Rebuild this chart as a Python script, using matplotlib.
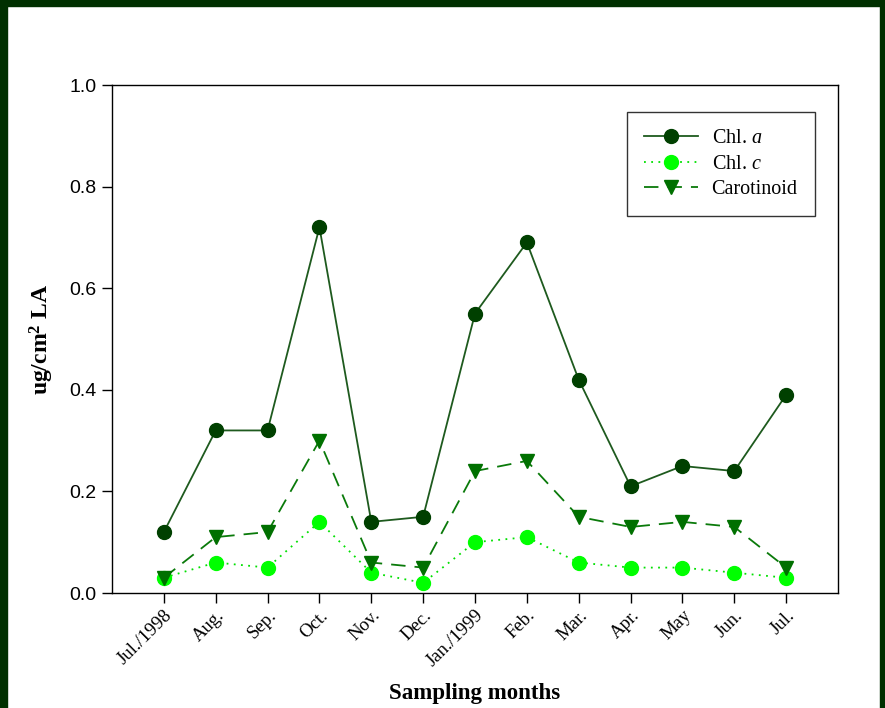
import matplotlib
matplotlib.use("Agg")
import matplotlib.pyplot as plt
from matplotlib.patches import Rectangle

months = ["Jul./1998", "Aug.", "Sep.", "Oct.", "Nov.", "Dec.", "Jan./1999",
          "Feb.", "Mar.", "Apr.", "May", "Jun.", "Jul."]
chl_a = [0.12, 0.32, 0.32, 0.72, 0.14, 0.15, 0.55, 0.69, 0.42, 0.21, 0.25, 0.24, 0.39]
chl_c = [0.03, 0.06, 0.05, 0.14, 0.04, 0.02, 0.10, 0.11, 0.06, 0.05, 0.05, 0.04, 0.03]
carotinoid = [0.03, 0.11, 0.12, 0.30, 0.06, 0.05, 0.24, 0.26, 0.15, 0.13, 0.14, 0.13, 0.05]

serif = "Liberation Serif"
sans = "Liberation Sans"

plt.rcParams["mathtext.fontset"] = "custom"
plt.rcParams["mathtext.rm"] = serif
plt.rcParams["mathtext.it"] = serif + ":italic"
plt.rcParams["mathtext.bf"] = serif + ":bold"

fig = plt.figure(figsize=(8.85, 7.08), dpi=100)
fig.patch.set_facecolor("white")

# dark green frame on left, top and right edges
frame = "#003000"
W, H = 885, 708
for x0, y0, w, h in [(0, 0, 7, H), (0, H - 6, W, 6), (W - 5, 0, 5, H)]:
    fig.patches.append(Rectangle((x0 / W, y0 / H), w / W, h / H,
                                 transform=fig.transFigure, color=frame, zorder=0))

ax = fig.add_axes([112 / W, 1 - 593 / H, (838 - 112) / W, (593 - 85) / H])

x = list(range(len(months)))
ax.plot(x, chl_a, color="#1e5a1e", lw=1.3, ls="-", marker="o", ms=10,
        mfc="#004000", mec="#004000", label="Chl. $\\it{a}$")
ax.plot(x, chl_c, color="#00e000", lw=1.3, ls=(0, (1, 3)), marker="o", ms=10,
        mfc="#00ff00", mec="#00ff00", label="Chl. $\\it{c}$")
ax.plot(x, carotinoid, color="#0a7a0a", lw=1.3, ls=(0, (8, 5)), marker="v", ms=10,
        mfc="#007000", mec="#007000", label="Carotinoid")

ax.set_xlim(-1, 13)
ax.set_ylim(0, 1.0)
ax.set_xticks(x)
ax.set_xticklabels(months, rotation=45, ha="right", rotation_mode="anchor",
                   fontfamily=serif, fontsize=13.5)
ax.set_yticks([0.0, 0.2, 0.4, 0.6, 0.8, 1.0])
ax.set_yticklabels(["0.0", "0.2", "0.4", "0.6", "0.8", "1.0"],
                   fontfamily=sans, fontsize=14)
ax.tick_params(direction="out", length=7, width=1, top=False, right=False)
ax.tick_params(axis="x", pad=3)
ax.tick_params(axis="y", pad=4)
for s in ax.spines.values():
    s.set_linewidth(1)

ax.set_xlabel("Sampling months", fontfamily=serif, fontsize=16.5,
              fontweight="bold", labelpad=9)
ax.set_ylabel("ug/cm$^\\mathbf{2}$ LA", fontfamily=serif, fontsize=17,
              fontweight="bold", labelpad=10)

leg = ax.legend(loc="upper left", bbox_to_anchor=(627 / W, 1 - 112 / H),
                bbox_transform=fig.transFigure, frameon=True, fancybox=False,
                edgecolor="black", handlelength=2.7, handletextpad=0.65,
                borderpad=0.85, labelspacing=0.32, borderaxespad=0,
                prop={"family": serif, "size": 14.5})
leg.get_frame().set_linewidth(1)

fig.savefig("out.png", dpi=100)
